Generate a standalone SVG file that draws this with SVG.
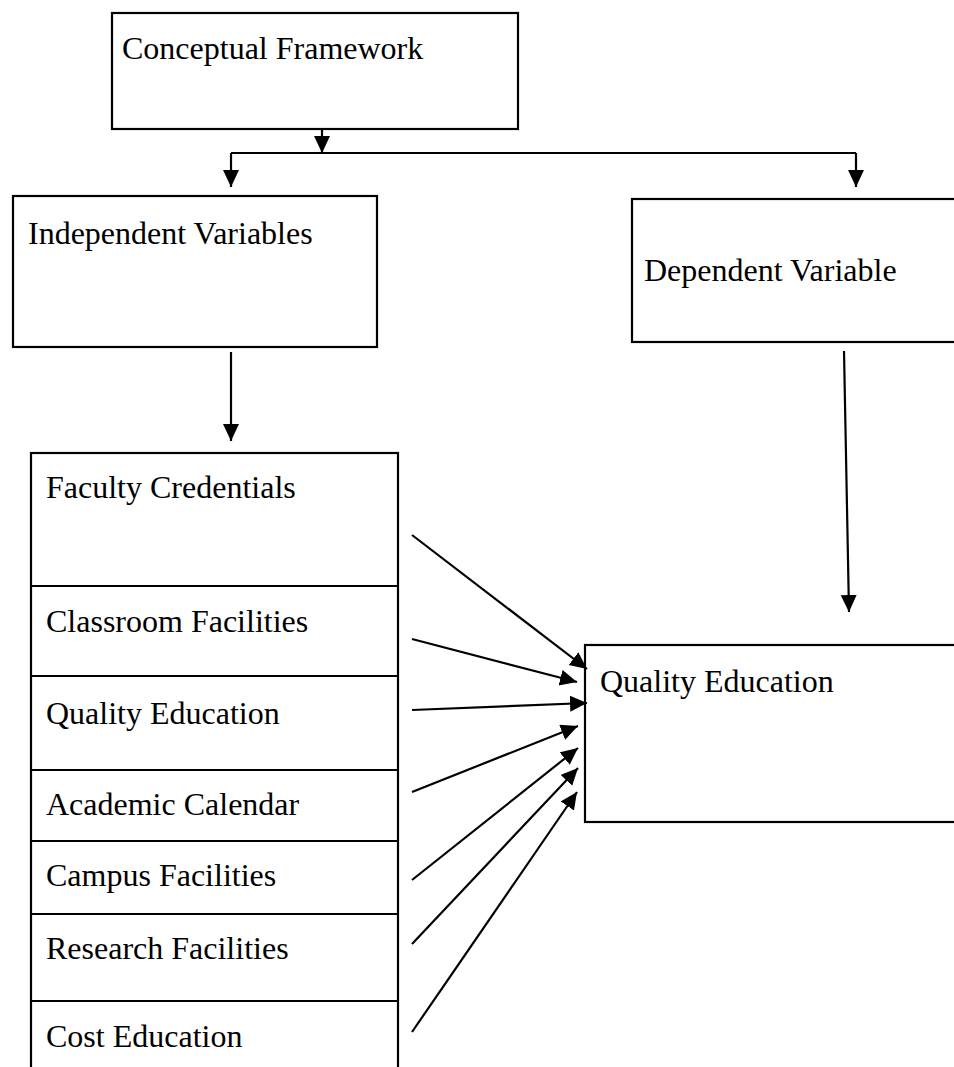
<svg xmlns="http://www.w3.org/2000/svg" width="954" height="1067" viewBox="0 0 954 1067">
<style>
.box{fill:#fff;stroke:#000;stroke-width:2.2}
.div{stroke:#000;stroke-width:2.2}
.lbl{font-family:"Liberation Serif","Times New Roman",serif;font-size:32px;fill:#000}
.con{fill:none;stroke:#000;stroke-width:2.2}
</style>
<defs>
<marker id="ah" markerUnits="userSpaceOnUse" markerWidth="20" markerHeight="18" refX="17" refY="8" orient="auto">
<path d="M0,0 L17,8 L0,16 Z" fill="#000"/>
</marker>
</defs>
<rect width="954" height="1067" fill="#fff"/>
<g id="n-conceptual">
<rect class="box" x="112" y="13" width="406" height="116"/>
<text class="lbl" x="122" y="59">Conceptual Framework</text>
</g>
<g id="n-independent">
<rect class="box" x="13" y="196" width="364" height="151"/>
<text class="lbl" x="28" y="244">Independent Variables</text>
</g>
<g id="n-dependent">
<rect class="box" x="632" y="199" width="326" height="143"/>
<text class="lbl" x="644" y="281">Dependent Variable</text>
</g>
<g id="n-list">
<rect class="box" x="31" y="453" width="367" height="620"/>
<line class="div" x1="31" y1="586" x2="398" y2="586"/>
<line class="div" x1="31" y1="676" x2="398" y2="676"/>
<line class="div" x1="31" y1="770" x2="398" y2="770"/>
<line class="div" x1="31" y1="841" x2="398" y2="841"/>
<line class="div" x1="31" y1="914" x2="398" y2="914"/>
<line class="div" x1="31" y1="1001" x2="398" y2="1001"/>
<text class="lbl" x="46" y="498">Faculty Credentials</text>
<text class="lbl" x="46" y="632">Classroom Facilities</text>
<text class="lbl" x="46" y="724">Quality Education</text>
<text class="lbl" x="46" y="815">Academic Calendar</text>
<text class="lbl" x="46" y="886">Campus Facilities</text>
<text class="lbl" x="46" y="959">Research Facilities</text>
<text class="lbl" x="46" y="1047">Cost Education</text>
</g>
<g id="n-quality">
<rect class="box" x="585" y="645" width="373" height="177"/>
<text class="lbl" x="600" y="692">Quality Education</text>
</g>
<g id="connectors">
<line class="con" x1="322" y1="129" x2="322" y2="153" marker-end="url(#ah)"/>
<polyline class="con" points="231,153 856,153"/>
<line class="con" x1="231" y1="153" x2="231" y2="187" marker-end="url(#ah)"/>
<line class="con" x1="856" y1="153" x2="856" y2="187" marker-end="url(#ah)"/>
<line class="con" x1="231" y1="352" x2="231" y2="441" marker-end="url(#ah)"/>
<line class="con" x1="844" y1="351" x2="849" y2="612" marker-end="url(#ah)"/>
<line class="con" x1="412" y1="535" x2="587" y2="669" marker-end="url(#ah)"/>
<line class="con" x1="412" y1="639" x2="577" y2="682" marker-end="url(#ah)"/>
<line class="con" x1="412" y1="710" x2="587" y2="703" marker-end="url(#ah)"/>
<line class="con" x1="412" y1="792" x2="578" y2="726" marker-end="url(#ah)"/>
<line class="con" x1="412" y1="880" x2="578" y2="748" marker-end="url(#ah)"/>
<line class="con" x1="412" y1="944" x2="578" y2="768" marker-end="url(#ah)"/>
<line class="con" x1="412" y1="1032" x2="577" y2="792" marker-end="url(#ah)"/>
</g>
</svg>
